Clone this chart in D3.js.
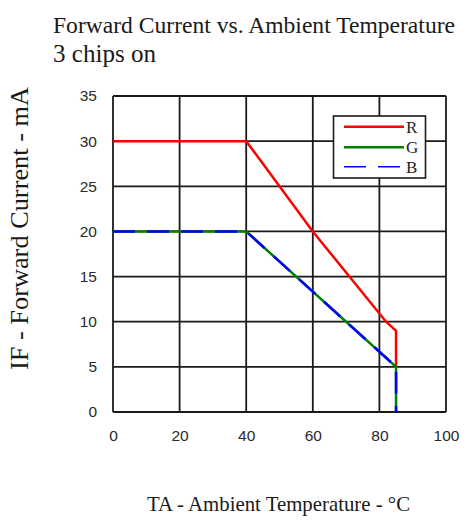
<!DOCTYPE html>
<html>
<head>
<meta charset="utf-8">
<script src="https://cdn.jsdelivr.net/npm/d3@7"></script>
<style>
  body { margin: 0; background: #fff; }
  svg { display: block; }
</style>
</head>
<body>
<div id="chart"></div>
<script>
// data
const seriesNames = ['R', 'G', 'B'];
const seriesColors = ['#ff0000', '#008000', '#0000ff'];
const redTemp = [0, 40, 60, 82, 85, 85];
const redCurrent = [30, 30, 20, 10, 9, 5];
const greenTemp = [0, 40, 85, 85];
const greenCurrent = [20, 20, 5, 0];
const blueTemp = [0, 40, 85, 85];
const blueCurrent = [20, 20, 5, 0];
const xTicks = [0, 20, 40, 60, 80, 100];
const yTicks = [0, 5, 10, 15, 20, 25, 30, 35];

let dim = { width: 474, height: 529 };
let plot = { left: 113, right: 446, top: 96, bottom: 412 };

let svg = d3.select('#chart').append('svg')
    .attr('width', dim.width)
    .attr('height', dim.height);

let x = d3.scaleLinear().domain([0, 100]).range([plot.left, plot.right]);
let y = d3.scaleLinear().domain([0, 35]).range([plot.bottom, plot.top]);

// grid lines
svg.append('g')
    .selectAll('line.v')
    .data(xTicks)
    .join('line')
    .attr('x1', d => x(d)).attr('x2', d => x(d))
    .attr('y1', y(0)).attr('y2', y(35))
    .attr('stroke', '#1a1a1a')
    .attr('stroke-width', 1.8);

svg.append('g')
    .selectAll('line.h')
    .data(yTicks)
    .join('line')
    .attr('x1', x(0)).attr('x2', x(100))
    .attr('y1', d => y(d)).attr('y2', d => y(d))
    .attr('stroke', '#1a1a1a')
    .attr('stroke-width', 1.8);

// tick labels via axes
let xAxis = svg.append('g')
    .attr('transform', 'translate(0,' + (plot.bottom + 24) + ')')
    .call(d3.axisBottom(x).tickValues(xTicks).tickSize(0).tickPadding(0));
let yAxis = svg.append('g')
    .attr('transform', 'translate(' + (plot.left - 16) + ',0)')
    .call(d3.axisLeft(y).tickValues(yTicks).tickSize(0).tickPadding(0));

[xAxis, yAxis].forEach(a => {
    a.select('.domain').remove();
    a.selectAll('text')
        .attr('font-family', '"Liberation Sans", Arial, sans-serif')
        .attr('font-size', 15.5)
        .attr('fill', '#2a2a2a');
});
xAxis.selectAll('text').attr('dy', '0.32em').attr('y', 0);

// series lines
let line = d3.line().x(d => x(d[0])).y(d => y(d[1]));
let series = [
    { name: seriesNames[0], color: seriesColors[0], pts: d3.zip(redTemp, redCurrent), dash: null },
    { name: seriesNames[1], color: seriesColors[1], pts: d3.zip(greenTemp, greenCurrent), dash: null },
    { name: seriesNames[2], color: seriesColors[2], pts: d3.zip(blueTemp, blueCurrent), dash: '22,12' }
];

svg.append('g')
    .selectAll('path')
    .data(series)
    .join('path')
    .attr('d', d => line(d.pts))
    .attr('fill', 'none')
    .attr('stroke', d => d.color)
    .attr('stroke-width', 2.5)
    .attr('stroke-dasharray', d => d.dash);

// legend
let lg = svg.append('g');
lg.append('rect')
    .attr('x', 333.5).attr('y', 116)
    .attr('width', 92).attr('height', 62)
    .attr('fill', '#fff')
    .attr('stroke', '#1a1a1a')
    .attr('stroke-width', 1.6);

let legendY = [126.7, 147.3, 166.7];
lg.selectAll('line')
    .data(series)
    .join('line')
    .attr('x1', 344).attr('x2', 404)
    .attr('y1', (d, i) => legendY[i]).attr('y2', (d, i) => legendY[i])
    .attr('stroke', d => d.color)
    .attr('stroke-width', d => d.dash ? 1.6 : 2.6)
    .attr('stroke-dasharray', d => d.dash);

lg.selectAll('text')
    .data(series)
    .join('text')
    .attr('x', 406)
    .attr('y', (d, i) => legendY[i])
    .attr('dy', '0.35em')
    .attr('font-family', '"Liberation Serif", "Times New Roman", serif')
    .attr('font-size', 17)
    .attr('fill', '#222')
    .text(d => d.name);

// titles
let serif = '"Liberation Serif", "Times New Roman", serif';
svg.append('text')
    .attr('x', 53).attr('y', 33)
    .attr('font-family', serif).attr('font-size', 24)
    .attr('textLength', 402).attr('lengthAdjust', 'spacingAndGlyphs')
    .attr('fill', '#1a1a1a')
    .text('Forward Current vs. Ambient Temperature');

svg.append('text')
    .attr('x', 53).attr('y', 62)
    .attr('font-family', serif).attr('font-size', 25)
    .attr('textLength', 103).attr('lengthAdjust', 'spacingAndGlyphs')
    .attr('fill', '#1a1a1a')
    .text('3 chips on');

svg.append('text')
    .attr('transform', 'translate(28,228.5) rotate(-90)')
    .attr('text-anchor', 'middle')
    .attr('font-family', serif).attr('font-size', 25)
    .attr('textLength', 283).attr('lengthAdjust', 'spacingAndGlyphs')
    .attr('fill', '#1a1a1a')
    .text('IF - Forward Current - mA');

svg.append('text')
    .attr('x', 278.5).attr('y', 511)
    .attr('text-anchor', 'middle')
    .attr('font-family', serif).attr('font-size', 21)
    .attr('textLength', 263).attr('lengthAdjust', 'spacingAndGlyphs')
    .attr('fill', '#1a1a1a')
    .text('TA - Ambient Temperature - °C');
</script>
</body>
</html>
